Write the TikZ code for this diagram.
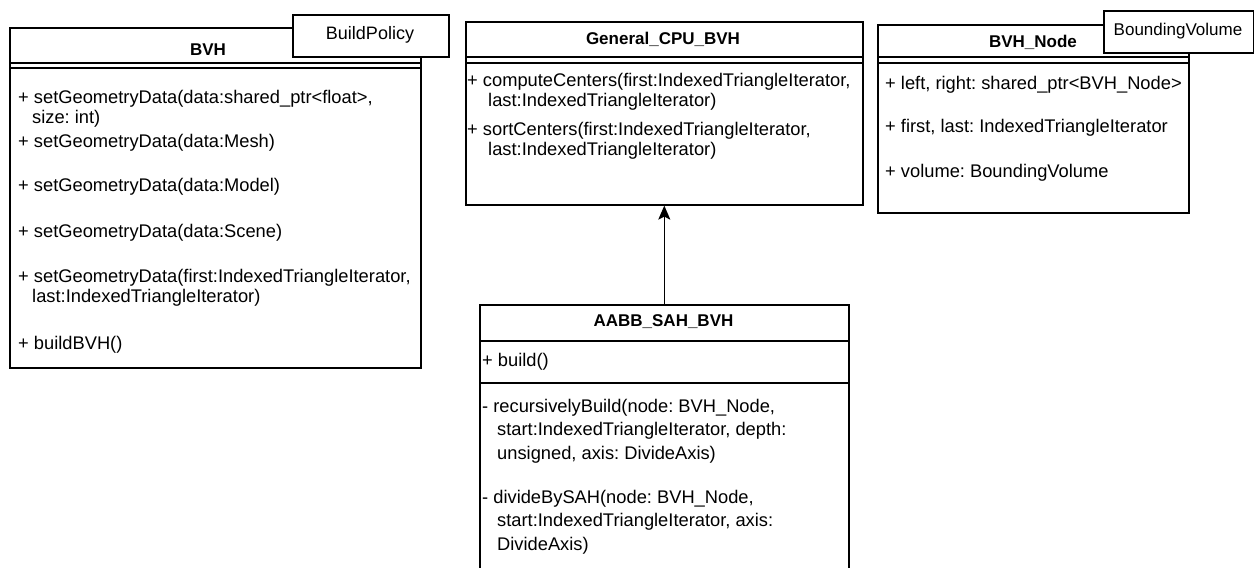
\documentclass[tikz,border=0pt]{standalone}
\usepackage{fontspec}
\setmainfont{Liberation Sans}
\usetikzlibrary{arrows.meta}
\frenchspacing

\tikzset{
	classbox/.style={draw, line width=1.6pt, fill=white, inner sep=0pt, anchor=north west},
	tabbox/.style={draw, line width=1.6pt, fill=white, inner sep=0pt, anchor=north west},
	sep/.style={line width=1.6pt},
	title/.style={font=\fontsize{17}{20}\selectfont\bfseries, inner sep=0pt},
	member/.style={anchor=west, align=left, inner sep=0pt, font=\fontsize{18.3}{20}\selectfont},
}

\begin{document}
\begin{tikzpicture}[x=1pt, y=-1pt]

	\clip (0,0) rectangle (1254,568);

	% BVH
	\node[classbox, minimum width=411pt, minimum height=340pt] (bvh) at (9,27) {};
	\draw[sep] (9,63) -- (420,63);
	\draw[sep] (9,68) -- (420,68);
	\node[title] (bvhtitle) at (208,50) {BVH};
	\node[tabbox, minimum width=156pt, minimum height=42pt] (bvhtab) at (292,14) {};
	\node[inner sep=0pt, font=\fontsize{18}{20}\selectfont] (bvhtabtext) at (370,35) {BuildPolicy};
	\node[member] (bvhm1) at (18,109) {+ setGeometryData(data:shared\_ptr<float>,\\\hspace*{14pt}size: int)};
	\node[member] (bvhm2) at (18,143) {+ setGeometryData(data:Mesh)};
	\node[member] (bvhm3) at (18,187) {+ setGeometryData(data:Model)};
	\node[member] (bvhm4) at (18,233) {+ setGeometryData(data:Scene)};
	\node[member] (bvhm5) at (18,288) {+ setGeometryData(first:IndexedTriangleIterator,\\\hspace*{14pt}last:IndexedTriangleIterator)};
	\node[member] (bvhm6) at (18,345) {+ buildBVH()};

	% General_CPU_BVH
	\node[classbox, minimum width=397pt, minimum height=183pt] (gen) at (465,21) {};
	\draw[sep] (465,57) -- (862,57);
	\draw[sep] (465,63) -- (862,63);
	\node[title] (gentitle) at (663,39) {General\_CPU\_BVH};
	\node[member] (genm1) at (467,92) {+ computeCenters(first:IndexedTriangleIterator,\\\hspace*{21pt}last:IndexedTriangleIterator)};
	\node[member] (genm2) at (467,141) {+ sortCenters(first:IndexedTriangleIterator,\\\hspace*{21pt}last:IndexedTriangleIterator)};

	% BVH_Node
	\node[classbox, minimum width=311pt, minimum height=188pt] (bvhnode) at (877,24) {};
	\draw[sep] (877,57) -- (1188,57);
	\draw[sep] (877,63) -- (1188,63);
	\node[title] (nodetitle) at (1033,42) {BVH\_Node};
	\node[tabbox, minimum width=150pt, minimum height=42pt] (nodetab) at (1103,10) {};
	\node[inner sep=0pt, font=\fontsize{17}{20}\selectfont] (nodetabtext) at (1178,31) {BoundingVolume};
	\node[member] (nodem1) at (885,85) {+ left, right: shared\_ptr<BVH\_Node>};
	\node[member] (nodem2) at (885,128) {+ first, last: IndexedTriangleIterator};
	\node[member] (nodem3) at (885,173) {+ volume: BoundingVolume};

	% AABB_SAH_BVH
	\node[classbox, minimum width=369pt, minimum height=300pt] (aabb) at (479,304) {};
	\draw[sep] (479,341) -- (848,341);
	\draw[sep] (479,383) -- (848,383);
	\node[title] (aabbtitle) at (663.5,322) {AABB\_SAH\_BVH};
	\node[member] (aabbm1) at (482,362) {+ build()};
	\node[member, font=\fontsize{18.3}{23.5}\selectfont] (aabbm2) at (482,431) {- recursivelyBuild(node: BVH\_Node,\\\hspace*{15pt}start:IndexedTriangleIterator, depth:\\\hspace*{15pt}unsigned, axis: DivideAxis)};
	\node[member, font=\fontsize{18.3}{23.5}\selectfont] (aabbm3) at (482,522) {- divideBySAH(node: BVH\_Node,\\\hspace*{15pt}start:IndexedTriangleIterator, axis:\\\hspace*{15pt}DivideAxis)};

	% inheritance
	\draw[line width=1.6pt, -{Stealth[length=14pt, width=12pt, inset=3pt]}] (aabb.north) -- (gen.south);

\end{tikzpicture}
\end{document}
